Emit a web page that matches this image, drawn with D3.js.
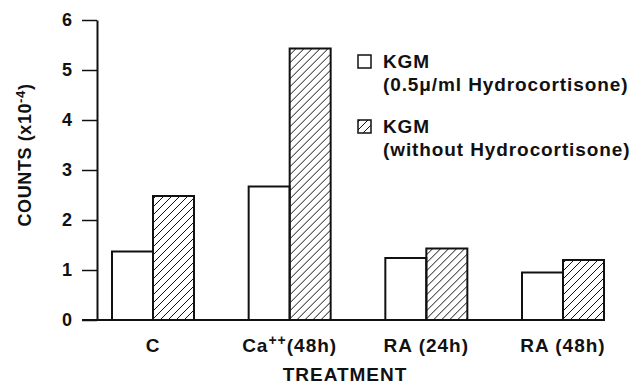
<!DOCTYPE html>
<html>
<head>
<meta charset="utf-8">
<script src="https://cdn.jsdelivr.net/npm/d3@7.9.0/dist/d3.min.js"></script>
<style>
  body { margin: 0; background: #fff; }
  svg text { font-family: "Liberation Sans", Arial, Helvetica, sans-serif; font-weight: bold; fill: #111; }
</style>
</head>
<body>
<svg id="chart" width="636" height="387"></svg>
<script>
const categories = ['C', 'Ca++(48h)', 'RA (24h)', 'RA (48h)'];
const seriesNames = ['with', 'without'];
const withHydro = [1.37, 2.67, 1.24, 0.95];
const withoutHydro = [2.48, 5.43, 1.43, 1.2];
const yTicks = [0, 1, 2, 3, 4, 5, 6];

const svg = d3.select('#chart');

// hatch for the "without" series
const defs = svg.append('defs');
defs.append('pattern')
    .attr('id', 'hatch')
    .attr('patternUnits', 'userSpaceOnUse')
    .attr('width', 8).attr('height', 8)
    .append('path')
    .attr('d', 'M-2,2 l4,-4 M0,8 l8,-8 M6,10 l4,-4')
    .attr('stroke', '#111').attr('stroke-width', 1);

const y = d3.scaleLinear().domain([0, 6]).range([320, 20]);
const x = d3.scaleBand().domain(categories).range([112, 604]).paddingInner(0.4).paddingOuter(0);
const xs = d3.scaleBand().domain(seriesNames).range([0, x.bandwidth()]);

// y axis
const yAxis = d3.axisLeft(y).tickValues(yTicks).tickFormat(d3.format('d'))
    .tickSize(15).tickPadding(10).tickSizeOuter(0);
const gy = svg.append('g').attr('transform', 'translate(97,0)').call(yAxis);
gy.select('.domain').attr('stroke', '#111').attr('stroke-width', 2);
gy.selectAll('.tick line').attr('stroke', '#111').attr('stroke-width', 1.5);
gy.selectAll('.tick text').style('font-size', '18px');

// baseline
svg.append('line')
    .attr('x1', 82).attr('x2', 605)
    .attr('y1', y(0)).attr('y2', y(0))
    .attr('stroke', '#111').attr('stroke-width', 2);

// bars
const rows = categories.map((c, i) => ({ cat: c, vals: [withHydro[i], withoutHydro[i]] }));
const groups = svg.append('g').selectAll('g').data(rows).join('g')
    .attr('transform', d => `translate(${x(d.cat)},0)`);
groups.selectAll('rect')
    .data(d => d.vals.map((v, k) => ({ key: seriesNames[k], v })))
    .join('rect')
    .attr('x', d => xs(d.key))
    .attr('y', d => y(d.v))
    .attr('width', xs.bandwidth())
    .attr('height', d => y(0) - y(d.v))
    .attr('fill', d => d.key === 'with' ? '#fff' : 'url(#hatch)')
    .attr('stroke', '#111').attr('stroke-width', 2);

// category labels
const catText = svg.append('g').selectAll('text').data(categories).join('text')
    .attr('x', d => x(d) + x.bandwidth() / 2)
    .attr('y', 352)
    .attr('text-anchor', 'middle')
    .style('font-size', '19px')
    .style('letter-spacing', '1px');
catText.each(function (d) {
    const t = d3.select(this);
    if (d.startsWith('Ca++')) {
        t.append('tspan').text('Ca');
        t.append('tspan').attr('dy', -7).style('font-size', '14px').text('++');
        t.append('tspan').attr('dy', 7).text('(48h)');
    } else {
        t.text(d);
    }
});

// axis titles
svg.append('text')
    .attr('x', 345).attr('y', 381)
    .attr('text-anchor', 'middle')
    .style('font-size', '19px')
    .style('letter-spacing', '1px')
    .text('TREATMENT');

const yl = svg.append('text')
    .attr('transform', 'translate(31,155) rotate(-90)')
    .attr('text-anchor', 'middle')
    .style('font-size', '18px')
    .style('letter-spacing', '0.6px');
yl.append('tspan').text('COUNTS (x10');
yl.append('tspan').attr('dy', -6).style('font-size', '13px').text('-4');
yl.append('tspan').attr('dy', 6).text(')');

// legend
const legend = svg.append('g');
const legendLabels = [
    ['KGM', '(0.5μ/ml Hydrocortisone)'],
    ['KGM', '(without Hydrocortisone)']
];
legendLabels.forEach((lines, i) => {
    const top = 55 + i * 65;
    legend.append('rect')
        .attr('x', 358).attr('y', top)
        .attr('width', 13).attr('height', 13)
        .attr('fill', i === 0 ? '#fff' : 'url(#hatch)')
        .attr('stroke', '#111').attr('stroke-width', 1.5);
    legend.append('text')
        .attr('x', 383).attr('y', top + 13)
        .style('font-size', '19px')
        .style('letter-spacing', '0.9px')
        .text(lines[0]);
    legend.append('text')
        .attr('x', 383).attr('y', top + 36)
        .style('font-size', '19px')
        .style('letter-spacing', '0.9px')
        .text(lines[1]);
});
</script>
</body>
</html>
